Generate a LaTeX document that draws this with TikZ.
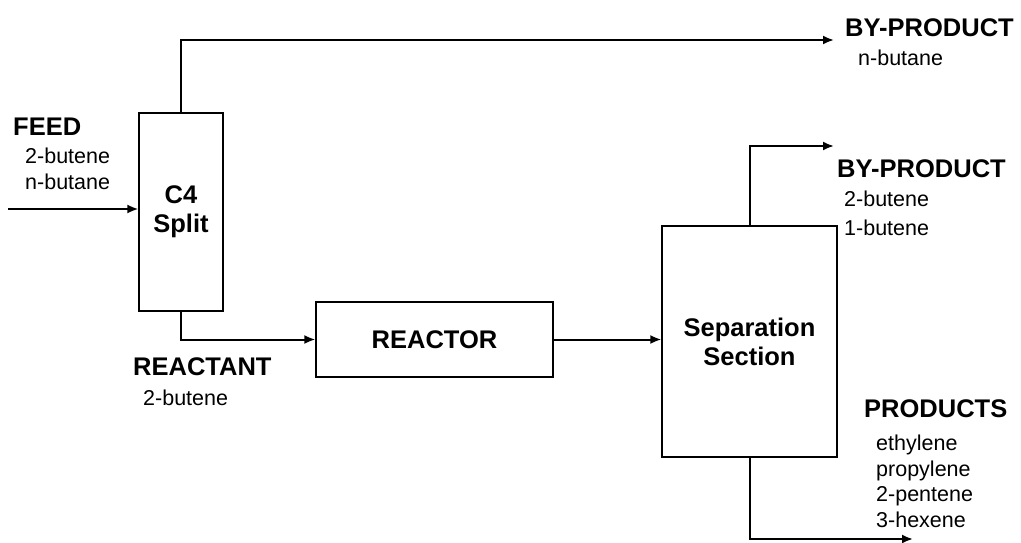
\documentclass[tikz,border=0pt]{standalone}
\usepackage{fontspec}
\setmainfont{Liberation Sans}
\usetikzlibrary{arrows.meta}
\begin{document}
\begin{tikzpicture}[x=1pt,y=-1pt,
  unit/.style={draw, line width=1.3pt, inner sep=0pt, align=center,
    font=\fontsize{25.5}{29}\selectfont\bfseries},
  title/.style={anchor=west, inner sep=0pt, font=\fontsize{25.5}{29}\selectfont\bfseries},
  items/.style={anchor=north west, inner sep=0pt, align=left,
    font=\fontsize{21.5}{25.5}\selectfont},
  flow/.style={line width=2pt, -{Latex[length=11pt,width=9pt]}}]
\useasboundingbox (0,0) rectangle (1021,543);

\node[unit, minimum width=84pt, minimum height=198pt] (split) at (181,212) {C4\\Split};
\node[unit, minimum width=237pt, minimum height=75pt] (reactor) at (434.5,339.5) {REACTOR};
\node[unit, minimum width=175pt, minimum height=231pt] (sep) at (749.5,341.5) {Separation\\Section};

\node[title] (feedt) at (13,127) {FEED};
\node[items] (feedl) at (25,148) {2-butene\\n-butane};
\node[title] (bp1t) at (845,28) {BY-PRODUCT};
\node[items] (bp1l) at (858,50) {n-butane};
\node[title] (reactt) at (133,367) {REACTANT};
\node[items] (reactl) at (143,390) {2-butene};
\node[title] (bp2t) at (837,169) {BY-PRODUCT};
\node[items, font=\fontsize{21.5}{29}\selectfont] (bp2l) at (844,191) {2-butene\\1-butene};
\node[title] (prodt) at (864,409) {PRODUCTS};
\node[items] (prodl) at (876,435) {ethylene\\propylene\\2-pentene\\3-hexene};

\coordinate (feedin) at (8,209);
\coordinate (bp1end) at (834,40);
\coordinate (bp2end) at (834,146);
\coordinate (prodend) at (913,539);

\draw[flow] (feedin) -- (feedin -| split.west);
\draw[flow] (split.north) |- (bp1end);
\draw[flow] (split.south) |- (reactor.west);
\draw[flow] (reactor.east) -- (reactor.east -| sep.west);
\draw[flow] (sep.north) |- (bp2end);
\draw[flow] (sep.south) |- (prodend);
\end{tikzpicture}
\end{document}
